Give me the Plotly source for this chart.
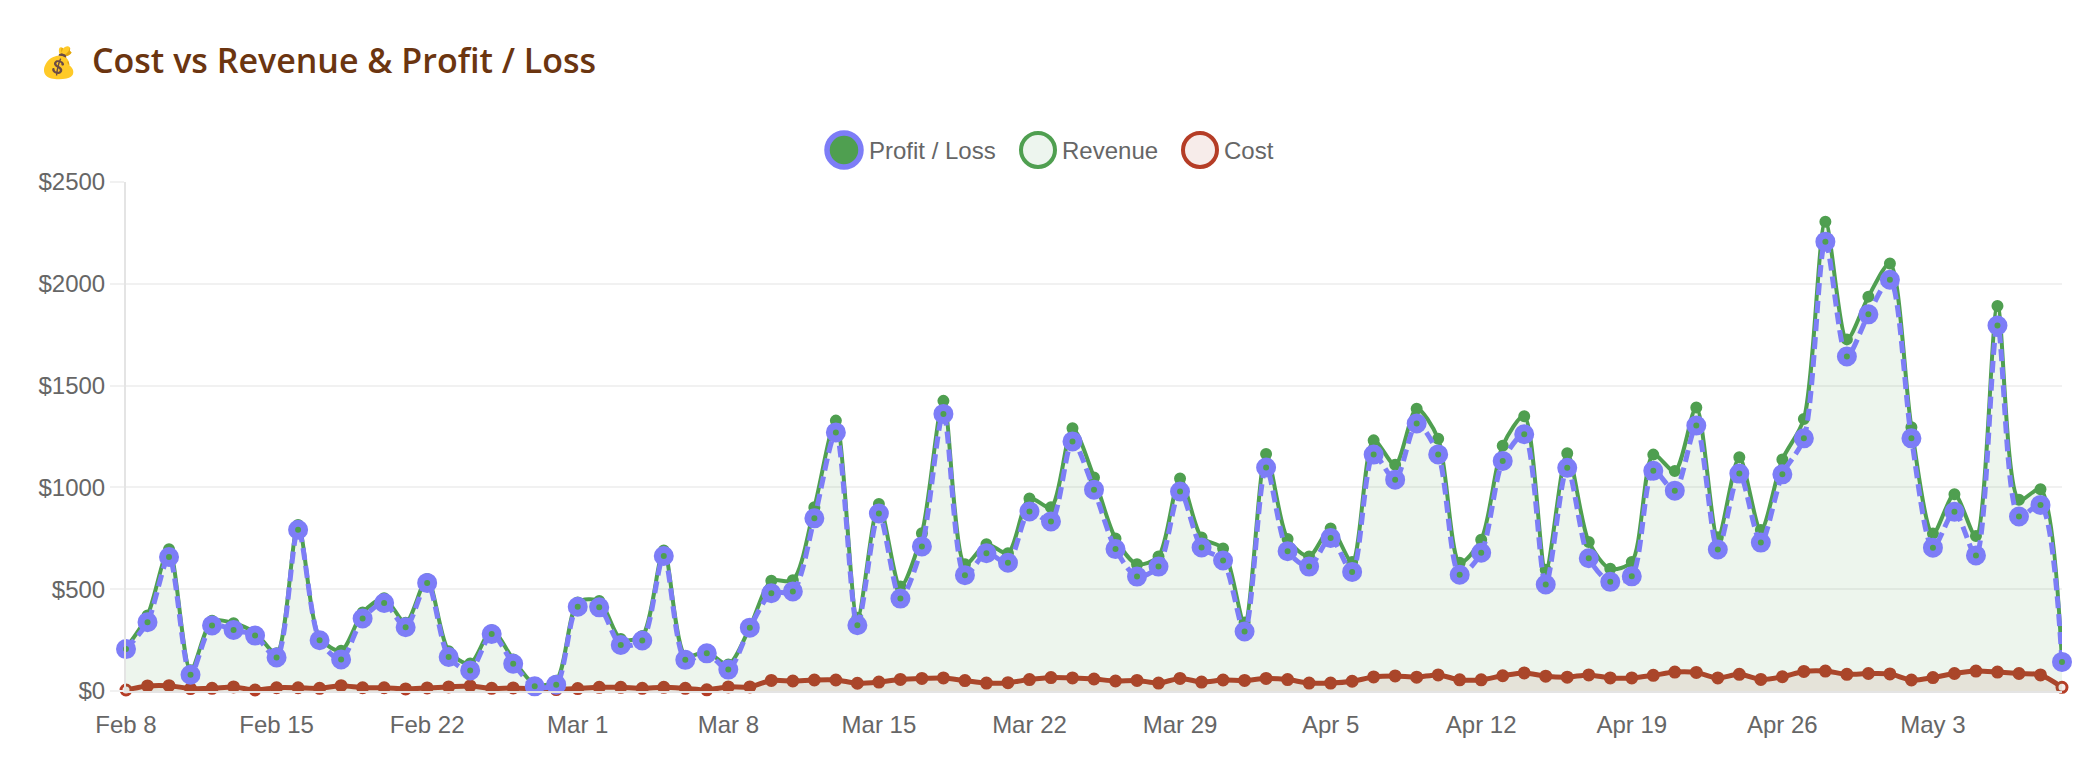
import pandas as pd
import plotly.graph_objects as go

dates = pd.date_range("2025-02-08", "2025-05-09", freq="D")

revenue = [210, 371, 696, 102, 345, 333, 287, 185, 815, 262, 198, 385, 455, 335, 550,
           195, 135, 298, 155, 33, 50, 435, 442, 255, 270, 690, 172, 192, 130, 313,
           541, 544, 902, 1328, 360, 918, 513, 775, 1425, 623, 721, 677, 946, 902, 1290,
           1049, 749, 623, 661, 1044, 754, 700, 336, 1164, 746, 661, 798, 634, 1231, 1111,
           1386, 1239, 630, 743, 1205, 1350, 595, 1168, 732, 600, 634, 1161, 1080, 1393, 755,
           1148, 791, 1137, 1336, 2305, 1727, 1937, 2100, 1295, 773, 966, 761, 1891, 939, 991, 145]
profit = [206, 338, 658, 80, 322, 300, 272, 165, 792, 249, 155, 356, 432, 313, 531,
          167, 101, 280, 134, 23, 31, 414, 411, 226, 248, 663, 153, 185, 105, 311,
          480, 489, 848, 1270, 323, 872, 454, 710, 1361, 569, 677, 630, 882, 833, 1226,
          989, 697, 562, 611, 980, 705, 641, 292, 1098, 687, 611, 752, 585, 1161, 1038,
          1314, 1162, 571, 679, 1130, 1261, 523, 1096, 652, 536, 563, 1082, 984, 1304, 695,
          1068, 729, 1064, 1241, 2207, 1643, 1850, 2020, 1241, 704, 880, 666, 1795, 857, 914, 143]
cost = [5, 25, 26, 12, 13, 20, 5, 16, 16, 13, 26, 16, 16, 10, 15,
        20, 25, 13, 15, 10, 7, 12, 18, 18, 13, 18, 13, 6, 20, 20,
        52, 49, 54, 54, 38, 44, 57, 62, 64, 51, 39, 41, 56, 66, 64,
        59, 49, 52, 39, 62, 44, 54, 52, 62, 56, 39, 39, 48, 69, 74,
        68, 79, 55, 55, 75, 89, 73, 68, 79, 64, 64, 77, 93, 91, 64,
        82, 57, 70, 96, 98, 82, 86, 84, 54, 66, 86, 98, 93, 86, 79, 18]

tick_dates = dates[::7]
tick_labels = ["Feb 8", "Feb 15", "Feb 22", "Mar 1", "Mar 8", "Mar 15", "Mar 22",
               "Mar 29", "Apr 5", "Apr 12", "Apr 19", "Apr 26", "May 3"]
y_ticks = [0, 500, 1000, 1500, 2000, 2500]
y_labels = ["$0", "$500", "$1000", "$1500", "$2000", "$2500"]

W, H = 2098, 778
L, R, T, B = 126, 2062, 182, 691
BLUE = "#7d7df7"
GREEN = "#4f9f50"
RED = "#b53d26"
TEXT = "#666666"
SMOOTH = 0.8


def px(x):
    return (x - L) / (R - L)


def py(y):
    return (B - y) / (B - T)


# Only the two end points show the pale marker centre; the line covers the rest
cost_faces = ["#f7ecea"] + [RED] * (len(cost) - 2) + ["#f7ecea"]

fig = go.Figure()
fig.add_trace(go.Scatter(
    x=dates, y=cost, name="Cost", mode="lines+markers", fill="tozeroy",
    fillcolor="rgba(181,61,38,0.1)", cliponaxis=False,
    line=dict(color=RED, width=5, shape="spline", smoothing=SMOOTH),
    marker=dict(size=10, color=cost_faces, line=dict(color=RED, width=3)),
))
fig.add_trace(go.Scatter(
    x=dates, y=revenue, name="Revenue", mode="lines+markers", fill="tozeroy",
    fillcolor="rgba(79,159,80,0.1)", cliponaxis=False,
    line=dict(color=GREEN, width=4, shape="spline", smoothing=SMOOTH),
    marker=dict(size=10, color=GREEN, line=dict(color=GREEN, width=2)),
))
fig.add_trace(go.Scatter(
    x=dates, y=profit, name="Profit / Loss", mode="lines+markers", cliponaxis=False,
    line=dict(color=BLUE, width=5, shape="spline", smoothing=SMOOTH, dash="12px,6px"),
    marker=dict(size=13, color=GREEN, line=dict(color=BLUE, width=7)),
))

shapes = []
annotations = [
    dict(text="💰", x=px(38), y=py(61), xref="paper", yref="paper", xanchor="left", yanchor="middle",
         showarrow=False, font=dict(size=30)),
    dict(text="Cost vs Revenue & Profit / Loss", x=px(90), y=py(60), xref="paper", yref="paper",
         xanchor="left", yanchor="middle", showarrow=False,
         font=dict(family="Open Sans", size=34, color="#6b3510", weight=600)),
]

# Legend row: one ring and caption per series
legend_items = [("Profit / Loss", 844, BLUE, GREEN, 5.5, 867),
                ("Revenue", 1038, GREEN, "#edf5ee", 4, 1060),
                ("Cost", 1200, RED, "#f7ecea", 4, 1222)]
for label, cx, edge, face, lw, tx in legend_items:
    r = 17
    shapes.append(dict(type="circle", xref="paper", yref="paper",
                       x0=px(cx - r), x1=px(cx + r), y0=py(150 + r), y1=py(150 - r),
                       fillcolor=face, line=dict(color=edge, width=lw)))
    annotations.append(dict(text=label, x=px(tx), y=py(150), xref="paper", yref="paper",
                            xanchor="left", yanchor="middle", showarrow=False,
                            font=dict(family="Liberation Sans", size=24, color=TEXT)))

fig.update_layout(
    width=W, height=H, autosize=False, showlegend=False,
    margin=dict(l=L, r=W - R, t=T, b=H - B),
    paper_bgcolor="white", plot_bgcolor="white",
    shapes=shapes, annotations=annotations,
    xaxis=dict(range=[dates[0], dates[-1]], tickvals=tick_dates, ticktext=tick_labels,
               showgrid=False, zeroline=False, showline=True, linecolor="#e4e4e4", linewidth=2,
               ticks="", ticklabelstandoff=11,
               tickfont=dict(family="Liberation Sans", size=24, color=TEXT)),
    yaxis=dict(range=[0, 2500], tickvals=y_ticks, ticktext=y_labels,
               showgrid=True, gridcolor="#f1f1f1", gridwidth=2, zeroline=False,
               showline=True, linecolor="#e4e4e4", linewidth=2,
               ticks="outside", ticklen=14, tickcolor="#f1f1f1", tickwidth=2,
               tickfont=dict(family="Liberation Sans", size=24, color=TEXT)),
)

fig.write_html("out.html")
